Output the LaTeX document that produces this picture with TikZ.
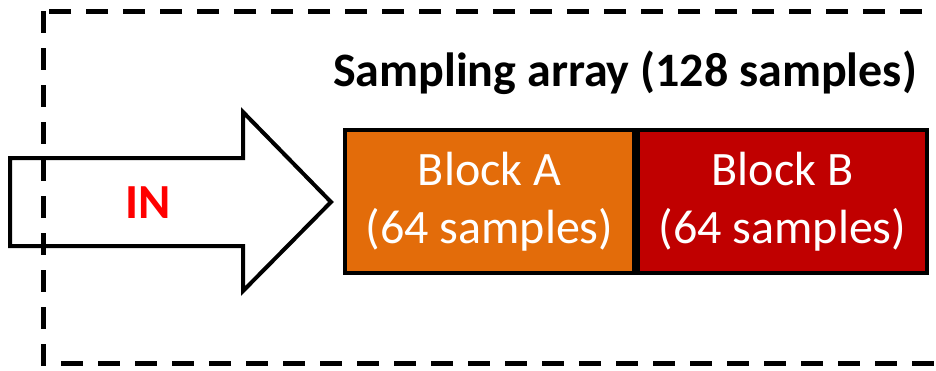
\documentclass[tikz,border=0pt]{standalone}
\usepackage{fontspec}
\setmainfont{Carlito}
\definecolor{blockorange}{HTML}{E36C0A}
\definecolor{blockred}{HTML}{C00000}
\definecolor{inred}{HTML}{FF0000}
\begin{document}
\begin{tikzpicture}[x=1pt,y=-1pt,
  blockbox/.style={draw=black, line width=4pt, minimum width=289pt, minimum height=143pt,
    inner sep=0pt, align=center, text=white, font=\fontsize{48}{58}\selectfont},
  frame/.style={draw=black, line width=5pt, dash pattern=on 22pt off 15pt},
  inarrow/.style={draw=black, fill=white, line width=4pt, line join=miter}]
  \useasboundingbox (0,0) rectangle (936,370);
  % input arrow
  \draw[inarrow] (10,158) -- (243,158) -- (243,112) -- (331,202) -- (243,291)
    -- (243,246) -- (10,246) -- cycle;
  \node[text=inred, font=\fontsize{49}{58}\selectfont\bfseries] (in) at (148,203) {IN};
  % dashed enclosure, open past the right edge
  \draw[frame] (43,11) rectangle (1000,363);
  % sampling array
  \node[blockbox, fill=blockorange] (blockA) at (489.5,201.5) {Block A\\(64 samples)};
  \node[blockbox, fill=blockred, anchor=west] (blockB) at (blockA.east) {Block B\\(64 samples)};
  \node[font=\fontsize{48}{58}\selectfont\bfseries] (title) at (625,73) {Sampling array (128 samples)};
\end{tikzpicture}
\end{document}
